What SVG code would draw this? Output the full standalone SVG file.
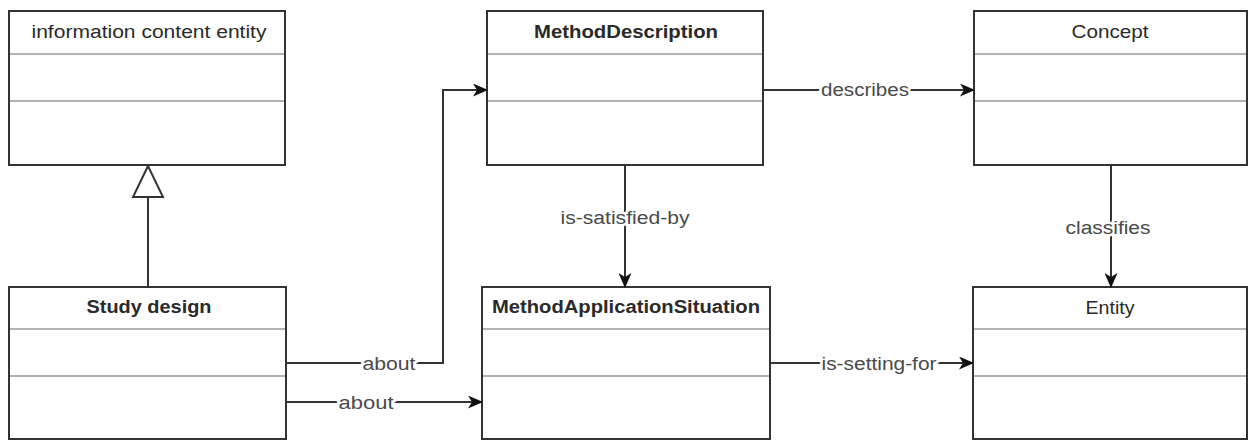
<svg xmlns="http://www.w3.org/2000/svg" width="1248" height="441" viewBox="0 0 1248 441">
  <style>
    .box { fill: #ffffff; stroke: #333333; stroke-width: 2; }
    .sep { stroke: #9a9a9a; stroke-width: 1.5; }
    .title { font-family: "Liberation Sans", Arial, sans-serif; font-size: 18px; fill: #2a2a2a; text-anchor: middle; }
    .bold { font-weight: bold; }
    .edge { fill: none; stroke: #333333; stroke-width: 2; }
    .lbl { font-family: "Liberation Sans", Arial, sans-serif; font-size: 18px; fill: #4a4a4a; text-anchor: middle;
           stroke: #ffffff; stroke-width: 5; paint-order: stroke; stroke-linejoin: round; }
  </style>
  <defs>
    <marker id="arrow" markerUnits="userSpaceOnUse" markerWidth="15" markerHeight="13" viewBox="0 0 15 13" refX="14" refY="6.5" orient="auto">
      <path d="M0,0 L15,6.5 L0,13 L4,6.5 Z" fill="#111111"/>
    </marker>
  </defs>
  <rect width="1248" height="441" fill="#ffffff"/>

  <!-- class boxes -->
  <g id="node-ice">
    <rect class="box" x="9" y="11" width="276" height="154"/>
    <line class="sep" x1="10" y1="54" x2="284" y2="54"/>
    <line class="sep" x1="10" y1="101" x2="284" y2="101"/>
    <text class="title" x="149" y="38" textLength="235" lengthAdjust="spacingAndGlyphs">information content entity</text>
  </g>
  <g id="node-method-description">
    <rect class="box" x="487" y="11" width="276" height="154"/>
    <line class="sep" x1="488" y1="54" x2="762" y2="54"/>
    <line class="sep" x1="488" y1="101" x2="762" y2="101"/>
    <text class="title bold" x="626" y="38" textLength="184" lengthAdjust="spacingAndGlyphs">MethodDescription</text>
  </g>
  <g id="node-concept">
    <rect class="box" x="974" y="11" width="273" height="154"/>
    <line class="sep" x1="975" y1="54" x2="1246" y2="54"/>
    <line class="sep" x1="975" y1="101" x2="1246" y2="101"/>
    <text class="title" x="1110" y="38" textLength="77" lengthAdjust="spacingAndGlyphs">Concept</text>
  </g>
  <g id="node-study-design">
    <rect class="box" x="9" y="287" width="277" height="152"/>
    <line class="sep" x1="10" y1="329" x2="285" y2="329"/>
    <line class="sep" x1="10" y1="376" x2="285" y2="376"/>
    <text class="title bold" x="149" y="313" textLength="125" lengthAdjust="spacingAndGlyphs">Study design</text>
  </g>
  <g id="node-method-application-situation">
    <rect class="box" x="482" y="287" width="288" height="152"/>
    <line class="sep" x1="483" y1="329" x2="769" y2="329"/>
    <line class="sep" x1="483" y1="376" x2="769" y2="376"/>
    <text class="title bold" x="626" y="313" textLength="268" lengthAdjust="spacingAndGlyphs">MethodApplicationSituation</text>
  </g>
  <g id="node-entity">
    <rect class="box" x="973" y="287" width="274" height="152"/>
    <line class="sep" x1="974" y1="329" x2="1246" y2="329"/>
    <line class="sep" x1="974" y1="376" x2="1246" y2="376"/>
    <text class="title" x="1110" y="314" textLength="49" lengthAdjust="spacingAndGlyphs">Entity</text>
  </g>

  <!-- connectors -->
  <g id="connectors">
    <!-- generalization -->
    <line class="edge" x1="148" y1="287" x2="148" y2="197"/>
    <polygon points="148,166 133,197 163,197" fill="#ffffff" stroke="#333333" stroke-width="2" stroke-linejoin="miter"/>

    <path class="edge" d="M286 363 H443 V90 H487" marker-end="url(#arrow)"/>
    <path class="edge" d="M286 402 H482" marker-end="url(#arrow)"/>
    <path class="edge" d="M763 90 H974" marker-end="url(#arrow)"/>
    <path class="edge" d="M625 165 V287" marker-end="url(#arrow)"/>
    <path class="edge" d="M1111 165 V287" marker-end="url(#arrow)"/>
    <path class="edge" d="M770 363 H973" marker-end="url(#arrow)"/>

    <text class="lbl" x="389" y="370" textLength="53" lengthAdjust="spacingAndGlyphs">about</text>
    <text class="lbl" x="366" y="409" textLength="55" lengthAdjust="spacingAndGlyphs">about</text>
    <text class="lbl" x="865" y="96" textLength="88" lengthAdjust="spacingAndGlyphs">describes</text>
    <text class="lbl" x="625" y="224" textLength="129" lengthAdjust="spacingAndGlyphs">is-satisfied-by</text>
    <text class="lbl" x="1108" y="234" textLength="85" lengthAdjust="spacingAndGlyphs">classifies</text>
    <text class="lbl" x="879" y="370" textLength="115" lengthAdjust="spacingAndGlyphs">is-setting-for</text>
  </g>
</svg>
